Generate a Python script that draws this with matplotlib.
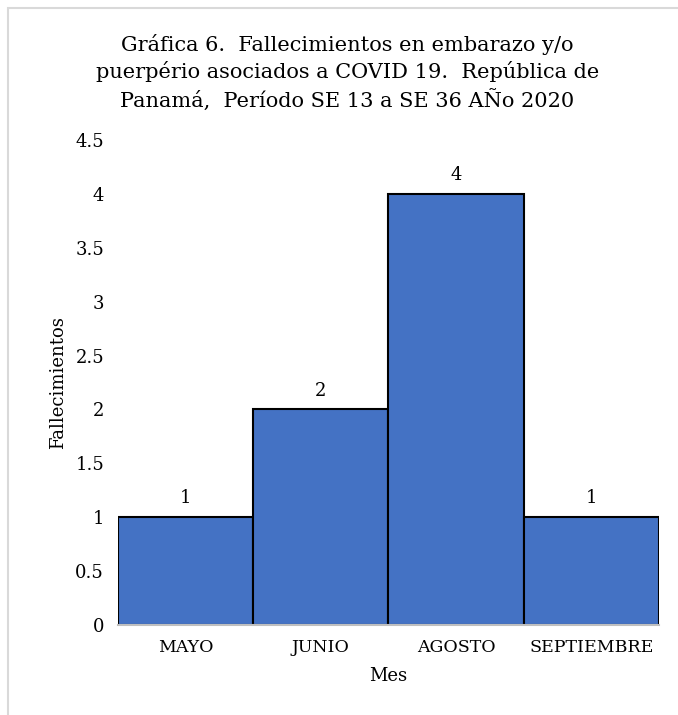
import matplotlib.pyplot as plt
import matplotlib.patches as mpatches
import numpy as np

plt.rcParams['font.family'] = ['DejaVu Serif']

# datos
meses = ['MAYO', 'JUNIO', 'AGOSTO', 'SEPTIEMBRE']
fallecimientos = [1, 2, 4, 1]

fig = plt.figure(figsize=(6.78, 7.15), dpi=100)
ax = fig.add_axes([0.174, 0.126, 0.798, 0.678])

# borde gris del area del grafico
fig.patches.append(mpatches.Rectangle((8 / 678, -0.05), 1.1, 1 - 8 / 715 + 0.05,
                                      transform=fig.transFigure, fill=False,
                                      edgecolor='#d9d9d9', linewidth=1.5))

x = np.arange(len(meses))
ax.bar(x, fallecimientos, width=1.0, color='#4472C4', edgecolor='black', linewidth=1.5)

for xi, v in zip(x, fallecimientos):
    ax.annotate(f'{v}', (xi, v), xytext=(0, 7), textcoords='offset points',
                ha='center', va='bottom', fontsize=13)

ax.set_xlim(-0.5, 3.5)
ax.set_ylim(0, 4.5)
ax.set_yticks(np.arange(0, 4.51, 0.5))
ax.set_yticklabels(['0', '0.5', '1', '1.5', '2', '2.5', '3', '3.5', '4', '4.5'], fontsize=13)
ax.set_xticks(x)
ax.set_xticklabels(meses, fontsize=12.5)
ax.tick_params(length=0, pad=10)
ax.tick_params(axis='x', pad=10)

for s in ['top', 'right', 'left']:
    ax.spines[s].set_visible(False)
ax.spines['bottom'].set_color('#bfbfbf')
ax.spines['bottom'].set_linewidth(1.5)

ax.set_xlabel('Mes', fontsize=13, labelpad=8)
ax.set_ylabel('Fallecimientos', fontsize=13, labelpad=6)

fig.text(0.512, 0.953, 'Gráfica 6.  Fallecimientos en embarazo y/o\n'
         'puerpério asociados a COVID 19.  República de\n'
         'Panamá,  Período SE 13 a SE 36 AÑo 2020',
         ha='center', va='top', fontsize=15, linespacing=1.37)

fig.savefig('out.png', dpi=100)
